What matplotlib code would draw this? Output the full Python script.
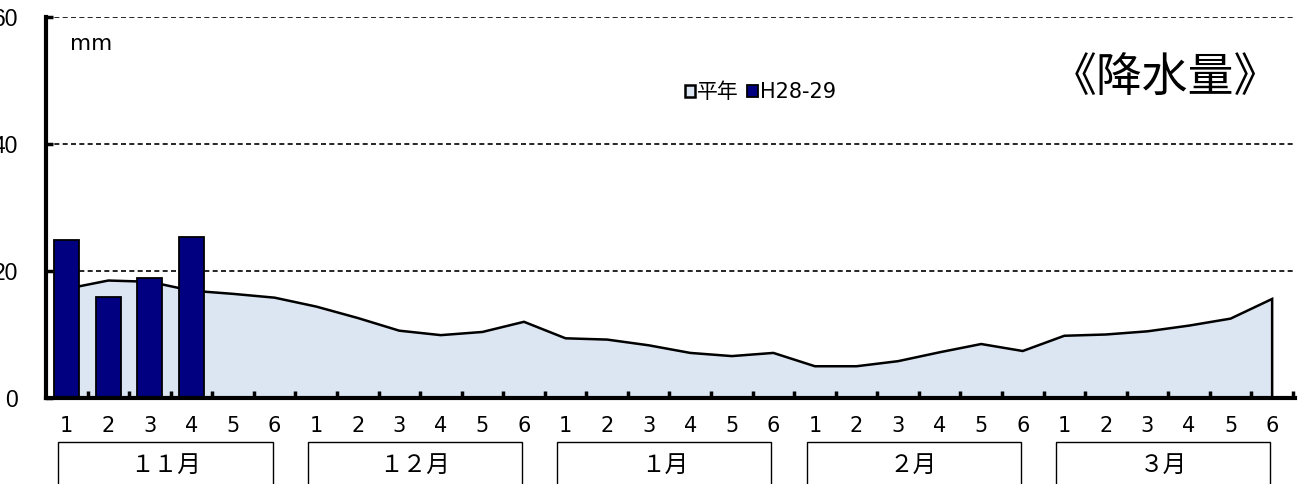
import matplotlib
matplotlib.use("Agg")
import matplotlib.pyplot as plt
from matplotlib.patches import Rectangle
import matplotlib.transforms as mtransforms

plt.rcParams["font.family"] = ["Noto Sans CJK JP", "DejaVu Sans"]

# data: half-month periods (半旬) Nov - Mar
months = ["１１月", "１２月", "１月", "２月", "３月"]
period_labels = ["1", "2", "3", "4", "5", "6"] * 5
normal = [17.2, 18.5, 18.3, 16.9, 16.4, 15.8,
          14.4, 12.6, 10.6, 9.9, 10.4, 12.0,
          9.4, 9.2, 8.3, 7.1, 6.6, 7.1,
          5.0, 5.0, 5.8, 7.2, 8.5, 7.4,
          9.8, 10.0, 10.5, 11.4, 12.5, 15.6]
this_year = [24.9, 15.9, 18.9, 25.4]

x = list(range(len(normal)))

fig = plt.figure(figsize=(13.06, 4.84), dpi=100)
ax = fig.add_axes([46/1306, 86/484, (1295-46)/1306, 381/484])

# normal (area)
area = ax.fill([x[0]] + x + [x[-1]], [0] + normal + [0],
               facecolor="#DCE6F2", edgecolor="black", linewidth=1.8,
               zorder=1, label="平年")[0]

# this season (bars)
bars = ax.bar(x[:len(this_year)], this_year, width=0.6, color="#000080",
              edgecolor="black", linewidth=1.3, zorder=3, label="H28-29")

ax.set_xlim(-0.5, 29.55)
ax.set_ylim(0, 60)
ax.set_yticks([0, 20, 40, 60])
for yv in [20, 40, 60]:
    ax.axhline(yv, color="black", linestyle=(0, (3, 2)), linewidth=1.2, zorder=2)

ax.spines["top"].set_visible(False)
ax.spines["right"].set_visible(False)
ax.spines["left"].set_linewidth(3)
ax.spines["bottom"].set_linewidth(3)
ax.spines["left"].set_zorder(5)
ax.spines["bottom"].set_zorder(5)

ax.set_xticks(x)
ax.set_xticklabels(period_labels, family=["Liberation Sans Narrow", "DejaVu Sans"],
                   fontsize=15)
ax.set_xticks([k + 0.5 for k in range(30)], minor=True)
ax.tick_params(axis="x", which="major", length=0, pad=13)
ax.tick_params(axis="x", which="minor", direction="in", length=5, width=2.5)
ax.tick_params(axis="y", direction="in", length=5, width=2.5, pad=20,
               labelsize=16.5)
for lab in ax.get_yticklabels():
    lab.set_family(["Liberation Sans", "DejaVu Sans"])

# month boxes under the axis
trans = mtransforms.blended_transform_factory(ax.transData, ax.transAxes)
for m, name in enumerate(months):
    x0 = 6 * m - 0.2
    x1 = 6 * m + 4.95
    box = Rectangle((x0, -0.26), x1 - x0, 0.145, transform=trans,
                    facecolor="white", edgecolor="black", linewidth=1,
                    clip_on=False)
    ax.add_patch(box)
    ax.text((x0 + x1) / 2, -0.177, name, transform=trans, ha="center",
            va="center", fontsize=17)

ax.text(0.019, 0.928, "mm", transform=ax.transAxes, fontsize=15.5,
        family=["DejaVu Sans"], va="center")
ax.text(0.988, 0.84, "《降水量》", transform=ax.transAxes, fontsize=33,
        ha="right", va="center")

ax.legend(handles=[area, bars], labels=["平年", "H28-29"], ncol=2,
          loc="center", bbox_to_anchor=(0.572, 0.803), frameon=False,
          handlelength=0.5, handleheight=0.5,
          handletextpad=0.1, columnspacing=0.4, borderpad=0,
          prop={"family": ["DejaVu Sans", "Noto Sans CJK JP"], "size": 15})

fig.savefig("out.png", dpi=100)
